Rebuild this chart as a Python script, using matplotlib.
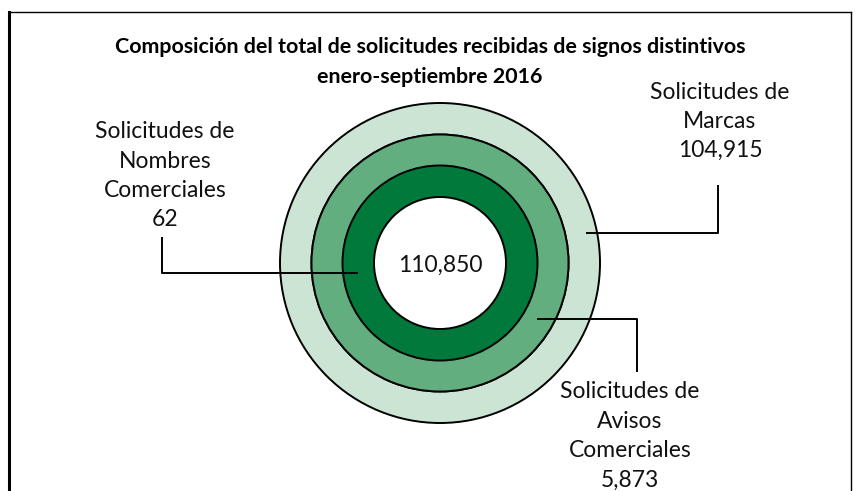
import matplotlib.pyplot as plt

# data
ring_names = ["Marcas", "Avisos Comerciales", "Nombres Comerciales"]
ring_values = [104915, 5873, 62]
total = sum(ring_values)

label_lines = [
    ["Solicitudes de", "Marcas", "104,915"],
    ["Solicitudes de", "Avisos", "Comerciales", "5,873"],
    ["Solicitudes de", "Nombres", "Comerciales", "62"],
]
title_lines = [
    "Composición del total de solicitudes recibidas de signos distintivos",
    "enero-septiembre 2016",
]

ring_colors = ["#CCE4D4", "#63AE7E", "#00793B"]
ring_radius = [160, 128.5, 97.5]
ring_width = 31.5
center = (440, 263)

# label block centre (x, y of first line) and leader path
label_pos = [(720, 92), (630, 392), (165, 132)]
leaders = [
    ([586, 718, 718], [233, 233, 185]),
    ([537, 637, 637], [319, 319, 372]),
    ([358, 162, 162], [273, 273, 237]),
]
line_gap = 29.3

plt.rcParams["font.family"] = ["Lato", "DejaVu Sans"]

fig = plt.figure(figsize=(8.57, 4.91), dpi=100)
ax = fig.add_axes([0, 0, 1, 1])

for v, r, c in zip(ring_values, ring_radius, ring_colors):
    ax.pie(
        [v],
        radius=r,
        center=center,
        colors=[c],
        startangle=90,
        wedgeprops=dict(width=ring_width, edgecolor="black", linewidth=1.4),
    )

ax.text(center[0], center[1] + 2, f"{total:,}", ha="center", va="center",
        fontsize=16.5, color="#111111")

for lines, (x, y0), (lx, ly) in zip(label_lines, label_pos, leaders):
    for i, s in enumerate(lines):
        ax.text(x, y0 + i * line_gap, s, ha="center", va="center",
                fontsize=16.5, color="#111111")
    ax.plot(lx, ly, color="black", linewidth=1.4, solid_capstyle="butt")

for i, s in enumerate(title_lines):
    ax.text(430, 47 + i * 30, s, ha="center", va="center",
            fontsize=15.4, fontweight="bold", color="black")

# frame
ax.plot([9.5, 9.5], [491, 12], color="black", linewidth=2.2)
ax.plot([9.5, 851], [12, 12], color="black", linewidth=1.0)
ax.plot([851, 851], [12, 491], color="black", linewidth=1.0)

ax.set_xlim(0, 857)
ax.set_ylim(491, 0)
ax.set_aspect("auto")
ax.axis("off")

fig.savefig("out.png", dpi=100)
plt.close(fig)
